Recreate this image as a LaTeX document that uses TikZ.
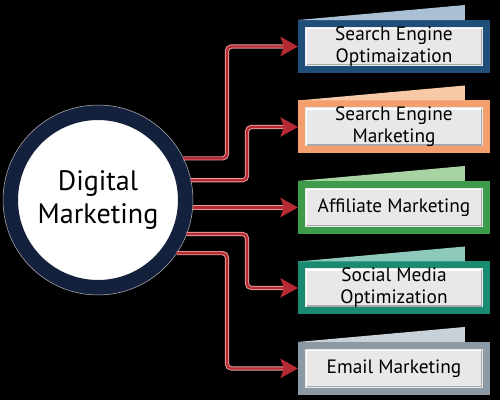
\documentclass[tikz,border=0pt]{standalone}
\usepackage{fontspec}
\setmainfont{PT Sans}
\usepackage{tikz}
\usetikzlibrary{shapes.geometric, arrows.meta, positioning}
\definecolor{hubnavy}{HTML}{14213D}
\definecolor{innergray}{HTML}{E8E8E8}
\definecolor{bevelgray}{HTML}{A8A8A8}
\definecolor{linkred}{HTML}{B52A33}
\definecolor{linkpink}{HTML}{E79A9A}
\definecolor{seoblue}{HTML}{1F4E79}
\definecolor{seotab}{HTML}{A9BFD3}
\definecolor{semorange}{HTML}{F4A06E}
\definecolor{semtab}{HTML}{F8C9A6}
\definecolor{affgreen}{HTML}{3E9B4B}
\definecolor{afftab}{HTML}{A8D4A4}
\definecolor{smoteal}{HTML}{1A8A72}
\definecolor{smotab}{HTML}{8CC9BA}
\definecolor{emgray}{HTML}{8C9AA6}
\definecolor{emtab}{HTML}{C8D1D8}
\tikzstyle{hub} = [circle, text centered, align=center, draw=hubnavy, line width=0.3cm, fill=white, minimum size=3.5cm, font=\fontsize{16}{19}\selectfont]
\tikzstyle{box} = [rectangle, text centered, align=center, line width=0.14cm, fill=innergray, minimum width=3.7cm, minimum height=0.92cm, inner sep=0pt, font=\fontsize{11}{12.5}\selectfont,
  path picture={
    \draw[white, line width=1pt] ([shift={(0.1cm,0.1cm)}]path picture bounding box.south west) |- ([shift={(-0.1cm,-0.1cm)}]path picture bounding box.north east);
    \draw[bevelgray, line width=0.8pt] ([shift={(0.1cm,0.1cm)}]path picture bounding box.south west) -| ([shift={(-0.1cm,-0.1cm)}]path picture bounding box.north east);
  }]
\tikzstyle{tab} = [draw=none]
\tikzstyle{link} = [draw=linkred, line width=1.3pt, rounded corners=2.5pt, -{Stealth[length=10pt, width=11pt, inset=2pt]}, preaction={draw=linkpink, line width=2.4pt, -, shorten >=7pt}]

\begin{document}
\begin{tikzpicture}[x=0.02cm, y=-0.02cm, node distance=1.61cm]
  \fill[black] (0,0) rectangle (500,400);
  \useasboundingbox (0,0) rectangle (500,400);

  \node (dm) [hub] at (98,200) {Digital\\Marketing};
  \draw [gray!60, line width=0.3pt] (dm.center) circle (1.9cm);

  \node (seo) [box, draw=seoblue] at (394,46.5) {Search Engine\\Optimaization};
  \node (sem) [box, draw=semorange, below of=seo] {Search Engine\\Marketing};
  \node (aff) [box, draw=affgreen, below of=sem] {Affiliate Marketing};
  \node (smo) [box, draw=smoteal, below of=aff] {Social Media\\Optimization};
  \node (em) [box, draw=emgray, below of=smo] {Email Marketing};

  % tabs on top of the boxes
  \fill [tab, seotab] (seo.north west) -- ([xshift=-0.5cm, yshift=0.3cm]seo.north east) -- ([xshift=-0.5cm]seo.north east) -- cycle;
  \fill [tab, semtab] (sem.north west) -- ([xshift=-0.5cm, yshift=0.3cm]sem.north east) -- ([xshift=-0.5cm]sem.north east) -- cycle;
  \fill [tab, afftab] (aff.north west) -- ([xshift=-0.5cm, yshift=0.3cm]aff.north east) -- ([xshift=-0.5cm]aff.north east) -- cycle;
  \fill [tab, smotab] (smo.north west) -- ([xshift=-0.5cm, yshift=0.3cm]smo.north east) -- ([xshift=-0.5cm]smo.north east) -- cycle;
  \fill [tab, emtab] (em.north west) -- ([xshift=-0.5cm, yshift=0.3cm]em.north east) -- ([xshift=-0.5cm]em.north east) -- cycle;

  \coordinate (k1) at (227,0);
  \coordinate (k2) at (247,0);

  \draw [link] (dm.26) -- (dm.26 -| k1) |- (seo.west);
  \draw [link] (dm.12) -- (dm.12 -| k2) |- (sem.west);
  \draw [link] (dm.east |- aff.west) -- (aff.west);
  \draw [link] (dm.-21) -- (dm.-21 -| k2) |- (smo.west);
  \draw [link] (dm.-34) -- (dm.-34 -| k1) |- (em.west);
\end{tikzpicture}
\end{document}
